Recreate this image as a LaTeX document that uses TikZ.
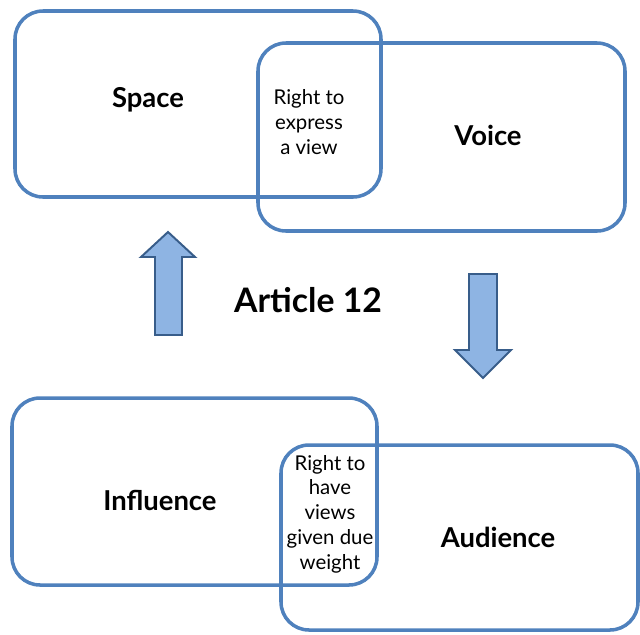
\documentclass[tikz,border=0pt]{standalone}
\usepackage{fontspec}
\setmainfont{Lato}
\definecolor{boxblue}{HTML}{4F81BD}
\definecolor{arrowfill}{HTML}{8EB4E3}
\definecolor{arrowline}{HTML}{385D8A}
\tikzset{
    area/.style={draw=boxblue, line width=2.5pt, rounded corners=0.7cm, inner sep=0pt},
    title/.style={font=\bfseries\fontsize{19.5}{22}\selectfont},
    overlap/.style={align=center, font=\fontsize{14.5}{17.6}\selectfont},
    blockarrow/.style={draw=arrowline, fill=arrowfill, line width=1.4pt, line join=miter}
}
\begin{document}
\begin{tikzpicture}[x=0.025cm, y=-0.025cm]
            % Pixelmass
            \def\u{0.025cm}
            \useasboundingbox (0,0) rectangle (640,634);

            % Rahmen oben
            \node[area, minimum width=366*\u, minimum height=186*\u] (space) at (198,104) {};
            \node[area, minimum width=367*\u, minimum height=188*\u] (voice) at (441.5,137) {};

            % Rahmen unten
            \node[area, minimum width=365*\u, minimum height=187*\u] (influence) at (194.5,491.5) {};
            \node[area, minimum width=357*\u, minimum height=185*\u] (audience) at (459.5,537.5) {};

            % Beschriftungen
            \node[title] (spacetext) at (148,100) {Space};
            \node[title] (voicetext) at (488,135) {Voice};
            \node[title] (influencetext) at (160,500) {Influence};
            \node[title] (audiencetext) at (498,537) {Audience};
            \node[overlap] (express) at (309,122) {Right to\\express\\a view};
            \node[overlap] (weight) at (330,514) {Right to\\have\\views\\given due\\weight};
            \node[font=\bfseries\fontsize{24}{28}\selectfont] (article) at (308,300) {Article 12};

            % Pfeile
            \draw[blockarrow] (155,335) -- (155,257) -- (141,257) -- (168,232) -- (195,257) -- (182,257) -- (182,335) -- cycle;
            \draw[blockarrow] (469,274) -- (497,274) -- (497,350) -- (511,350) -- (483,378) -- (455,350) -- (469,350) -- cycle;
\end{tikzpicture}
\end{document}
